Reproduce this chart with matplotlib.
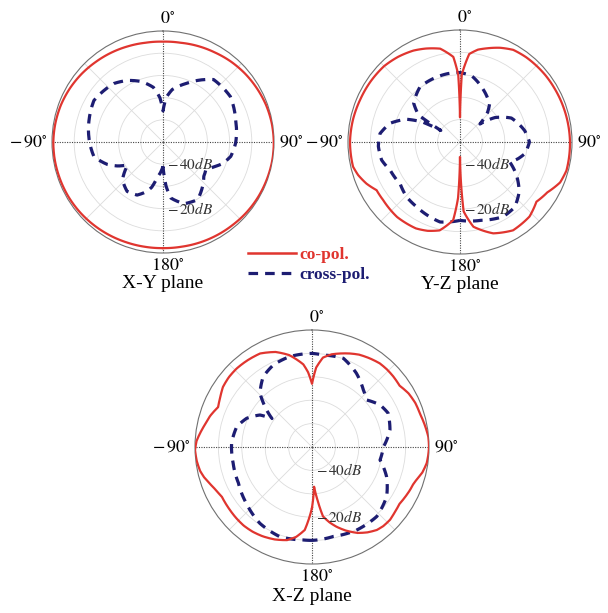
import numpy as np
import matplotlib.pyplot as plt
from matplotlib.lines import Line2D

plt.rcParams['font.family'] = ['Liberation Serif', 'DejaVu Serif']
plt.rcParams['mathtext.fontset'] = 'stix'

RED = '#e0352f'
NAVY = '#1d1d72'

# X-Y plane
xy_co_ang = [-180, -170, -160, -150, -140, -130, -120, -110, -100, -90, -80, -70, -60,
             -50, -40, -30, -20, -10, 0, 10, 20, 30, 40, 50, 60, 70, 80, 90, 100, 110,
             120, 130, 140, 150, 160, 170, 180]
xy_co_db = [-2.2, -2.1, -1.9, -1.6, -1.3, -1.0, -0.8, -0.7, -0.6, -0.6, -0.8, -1.1, -1.6,
            -2.2, -2.9, -3.5, -4.1, -4.6, -4.8, -4.6, -4.0, -3.4, -2.6, -1.9, -1.3,
            -0.7, -0.3, -0.1, -0.1, -0.3, -0.5, -0.8, -1.2, -1.5, -1.8, -2.1, -2.2]
xy_x_ang = [-180, -175, -171, -166, -162, -154, -144, -133, -128, -123, -118, -112, -102,
            -88, -73, -59, -40, -30, -20, -10, -4, 0, 4, 10, 22, 39, 56, 73, 91, 102,
            110, 116, 123, 130, 138, 149, 161, 172, 176, 180]
xy_x_db = [-39, -36, -34, -29, -26.6, -23.4, -22.5, -25, -28, -31, -27, -23, -18.2,
           -16.7, -15.2, -13.7, -15.6, -18, -21, -25, -30, -36, -30, -26, -21.5, -13.8,
           -13.4, -15.8, -17.3, -18.8, -21.5, -24.5, -27, -26, -23.3, -19.7, -20.6,
           -24.5, -30, -39]

# Y-Z plane
yz_co_ang = [-180, -178, -175, -167, -160, -153, -140, -127, -120, -114, -108, -103, -90,
             -78, -67, -56, -45, -36, -27, -20, -12, -4.5, -1.5, 0, 1.5, 6, 11, 16, 23,
             30, 38, 45, 52, 60, 75, 90, 105, 112, 120, 128, 137, 149, 160, 171, 177, 180]
yz_co_db = [-43, -25, -15, -9.5, -7.8, -6.7, -6.3, -7, -7, -4.3, -2.2, -1.0, -0.9,
            -1.2, -1.6, -1.8, -2.1, -3.0, -4.2, -5.6, -7.4, -11.9, -20, -39, -20, -10.5,
            -8.0, -6.5, -4.3, -2.5, -2.0, -1.8, -1.6, -1.5, -1.2, -0.9, -0.8, -1.8,
            -5, -6.7, -4.5, -4, -6.6, -11.7, -19, -43]
yz_x_ang = [-180, -166, -158, -146, -136, -125, -112, -103, -93, -84, -75, -67, -62,
            -59, -57, -50, -36, -20, -10, 0, 10, 24, 38, 43, 48, 55, 65, 80, 90, 100,
            106, 112, 120, 130, 140, 150, 165, 180]
yz_x_db = [-15, -13.2, -14, -15.2, -15.8, -17.4, -16.4, -14.1, -13.5, -14.1, -17.7,
           -24, -31, -40, -28, -23, -19.6, -19.2, -19, -19, -20, -24.4, -28.6, -32,
           -38, -31, -24.7, -20.7, -19, -20.5, -23, -26, -21, -15.5, -12, -11.5,
           -13.8, -15]

# X-Z plane
xz_co_ang = [-180, -175, -170, -165, -158, -151, -145, -139, -133, -127, -119, -114,
             -110, -106, -102, -97, -91.5, -87, -83, -78, -73, -67, -62, -56, -50, -44,
             -37, -29, -21, -14, -6, -3, 0, 3, 7, 12, 17, 22, 27, 33, 39, 44, 49, 55,
             61, 67, 73, 79, 85, 90, 94, 98, 103, 107, 110, 114, 118, 123, 128, 133,
             138, 142, 147, 152, 158, 163, 167, 171, 174, 177, 180]
xz_co_db = [-24, -14.4, -11.0, -8.8, -7.4, -6.4, -5.8, -5.5, -5.6, -5.8, -6, -5.0,
            -3.7, -2.2, -1.1, -0.4, 0, -0.6, -1.8, -3.3, -4.5, -6.4, -5.5, -4.1, -3.6,
            -3.5, -3.8, -4.3, -6.5, -9.5, -14.5, -18, -23, -16, -11.5, -9.5, -8.2,
            -6.9, -5.7, -4.8, -4.0, -3.9, -4.0, -4.3, -2.8, -2.0, -1.7, -0.9, -0.1, 0,
            -0.2, -0.5, -1.6, -3.1, -3.9, -4.3, -4.8, -5.4, -5.0, -4.4, -4.5, -5.0,
            -6.5, -8.4, -11.5, -14.4, -17.0, -20, -27, -33, -24]
xz_x_ang = [-180, -174.7, -160, -145.7, -130.8, -116, -101.7, -87, -74.9, -66.3,
            -58.4, -54.6, -50.8, -44, -34.7, -25, -13.7, 0, 7, 19.5, 31, 42, 49.3,
            58.3, 66, 77.7, 90, 100.8, 111.7, 123.6, 137, 151.7, 166.6, 177, 180]
xz_x_db = [-10.1, -10.1, -9.3, -10.5, -13, -15, -15.6, -15.6, -16.7, -19.5, -23.9,
           -29, -25, -18, -13.4, -11.2, -10.2, -10, -10.4, -9.8, -13.2, -17.2, -19.2,
           -15.8, -14.4, -15.9, -19.5, -20.4, -15.7, -11.7, -9.4, -9.7, -10.7, -10.2,
           -10.1]


def polar_line(ax, ang, db, **kw):
    line, = ax.plot(np.deg2rad(ang), db, **kw)
    # follow the polar grid between samples instead of straight chords
    line.get_path()._interpolation_steps = 12
    return line


def pattern(ax, co_ang, co_db, x_ang, x_db, name, title_off):
    ax.set_theta_zero_location('N')
    ax.set_theta_direction(-1)
    ax.set_ylim(-50, 0)
    ax.set_rticks([-40, -30, -20, -10])
    ax.set_yticklabels([])
    ax.set_thetagrids([45, 135, 225, 315], labels=[''] * 4)
    ax.grid(color='#dcdcdc', lw=0.6)
    ax.spines['polar'].set_color('#707070')
    ax.spines['polar'].set_linewidth(0.8)
    # main axes drawn dotted through the centre
    for a in (0, 90, 180, 270):
        ax.plot(np.deg2rad([a, a]), [-50, 0], color='#444444', lw=0.8,
                ls=(0, (1, 1.2)), zorder=2)

    polar_line(ax, co_ang, co_db, color=RED, lw=1.6, zorder=4)
    polar_line(ax, x_ang, x_db, color=NAVY, lw=2.3, ls=(0, (3, 2.2)), zorder=3)

    kw = dict(xycoords='axes fraction', textcoords='offset points', fontsize=13)
    ax.annotate(r'$0^{\circ}$', xy=(0.5, 1), xytext=(3, 3), ha='center', va='bottom', **kw)
    ax.annotate(r'$180^{\circ}$', xy=(0.5, 0), xytext=(3, -3), ha='center', va='top', **kw)
    ax.annotate(r'$-\,90^{\circ}$', xy=(0, 0.5), xytext=(-3, 0), ha='right', va='center', **kw)
    ax.annotate(r'$90^{\circ}$', xy=(1, 0.5), xytext=(3.5, 0), ha='left', va='center', **kw)
    kw['fontsize'] = 14
    ax.annotate(name, xy=(0.5, 0), xytext=(0, title_off), ha='center', va='top', **kw)

    for r in (-40, -20):
        ax.annotate(r'$-\,%ddB$' % -r, xy=(np.pi, r), xycoords='data',
                    xytext=(3, 0), textcoords='offset points',
                    ha='left', va='center', fontsize=11, color='#333333', zorder=5)


fig = plt.figure(figsize=(6.08, 6.13), dpi=100)

ax1 = fig.add_axes([52 / 608, 1 - 253 / 613, 222 / 608, 222 / 613], projection='polar')
pattern(ax1, xy_co_ang, xy_co_db, xy_x_ang, xy_x_db, 'X-Y plane', -16)

ax2 = fig.add_axes([348 / 608, 1 - 254 / 613, 224 / 608, 224 / 613], projection='polar')
pattern(ax2, yz_co_ang, yz_co_db, yz_x_ang, yz_x_db, 'Y-Z plane', -16)

ax3 = fig.add_axes([195 / 608, 1 - 564 / 613, 234 / 608, 234 / 613], projection='polar')
pattern(ax3, xz_co_ang, xz_co_db, xz_x_ang, xz_x_db, 'X-Z plane', -17)

handles = [Line2D([], [], color=RED, lw=1.8),
           Line2D([], [], color=NAVY, lw=2.3, ls=(0, (3, 2.2)))]
leg = fig.legend(handles, ['co-pol.', 'cross-pol.'], loc='center',
                 bbox_to_anchor=(309 / 608, 1 - 265 / 613), frameon=False,
                 prop={'weight': 'bold', 'size': 12.5}, handlelength=2.8,
                 handletextpad=0.2, labelspacing=0.2, borderpad=0)
for txt, c in zip(leg.get_texts(), (RED, NAVY)):
    txt.set_color(c)

fig.savefig('out.png', dpi=100, facecolor='white')
